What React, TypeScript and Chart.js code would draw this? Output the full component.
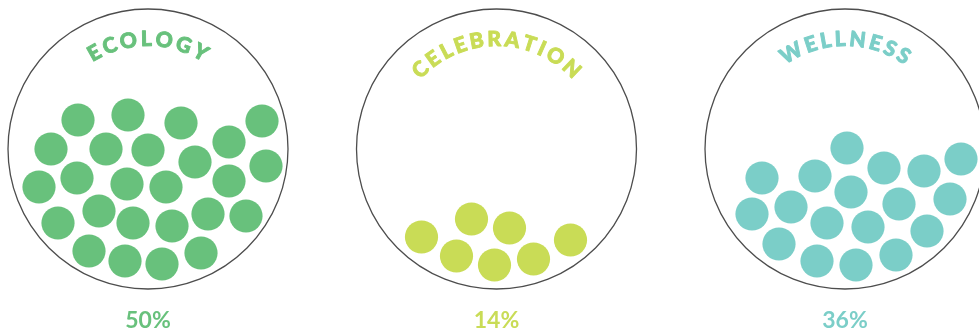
import React, { useEffect, useRef } from 'react';
import { Chart, registerables } from 'chart.js';

Chart.register(...registerables);

// ---- Data ----
const categories = ['ECOLOGY', 'CELEBRATION', 'WELLNESS'];
const percentages = [50, 14, 36];
const colors = ['#68C17C', '#C9DC56', '#7BCEC8'];

// Dot positions relative to each jar's centre (jar radius = 140 units, y up)
const ecologyDots: number[][] = [
  [-70, 29], [-20, 34], [33, 26], [114, 28],
  [-97, 0], [-42, 0], [0, -1], [81, 7], [47, -13], [118, -17],
  [-109, -38], [-71, -29], [-21, -35], [18, -38], [81, -32],
  [-90, -74], [-49, -62], [-15, -74], [24, -77], [60, -65], [98, -67],
  [-59, -102], [-23, -112], [14, -115], [53, -104],
];
const celebrationDots: number[][] = [
  [-75, -88], [-25, -70], [13, -79], [74, -91],
  [-40, -107], [-2, -116], [37, -110],
];
const wellnessDots: number[][] = [
  [2, 1], [-83, -29], [-30, -27], [39, -19], [79, -22], [116, -10],
  [6, -43], [-93, -65], [-54, -58], [54, -55], [105, -50],
  [-18, -74], [23, -78], [-66, -95], [82, -82],
  [-28, -112], [11, -116], [51, -106],
];
const dotGroups = [ecologyDots, celebrationDots, wellnessDots];

const JAR_RADIUS = 140;
const GROUP_SPACING = 348.5;

function drawArcText(
  ctx: CanvasRenderingContext2D,
  text: string,
  cx: number,
  cy: number,
  radius: number,
  spacing: number
) {
  const chars = Array.from(text);
  const widths = chars.map((c) => ctx.measureText(c).width);
  const total = widths.reduce((a, b) => a + b, 0) + spacing * (chars.length - 1);
  let angle = -Math.PI / 2 - total / 2 / radius;
  ctx.textAlign = 'center';
  ctx.textBaseline = 'alphabetic';
  ctx.lineJoin = 'round';
  chars.forEach((ch, i) => {
    const w = widths[i];
    const a = angle + w / 2 / radius;
    ctx.save();
    ctx.translate(cx + radius * Math.cos(a), cy + radius * Math.sin(a));
    ctx.rotate(a + Math.PI / 2);
    ctx.fillText(ch, 0, 0);
    ctx.strokeText(ch, 0, 0);
    ctx.restore();
    angle += (w + spacing) / radius;
  });
}

const jarPlugin = {
  id: 'jars',
  beforeDatasetsDraw(chart: any) {
    const { ctx, scales } = chart;
    const xs = scales.x;
    const ys = scales.y;
    categories.forEach((name, i) => {
      const cxv = i * GROUP_SPACING;
      const cx = xs.getPixelForValue(cxv);
      const cy = ys.getPixelForValue(0);
      const r = Math.abs(xs.getPixelForValue(cxv + JAR_RADIUS) - cx);
      ctx.save();
      ctx.beginPath();
      ctx.arc(cx, cy, r, 0, Math.PI * 2);
      ctx.lineWidth = 1.3;
      ctx.strokeStyle = '#4d4d4d';
      ctx.stroke();

      ctx.fillStyle = colors[i];
      ctx.strokeStyle = colors[i];
      ctx.lineWidth = 0.9;
      ctx.font = '900 21px Lato, "DejaVu Sans", sans-serif';
      drawArcText(ctx, name, cx, cy, r - 37, 2.8);

      ctx.font = 'bold 23px Lato, "DejaVu Sans", sans-serif';
      ctx.textAlign = 'center';
      ctx.textBaseline = 'alphabetic';
      ctx.fillText(percentages[i] + '%', cx, ys.getPixelForValue(-178.5));
      ctx.restore();
    });
  },
};

export default function App() {
  const canvasRef = useRef<HTMLCanvasElement | null>(null);

  useEffect(() => {
    if (!canvasRef.current) return;
    const chart = new Chart(canvasRef.current, {
      type: 'scatter',
      data: {
        datasets: categories.map((name, i) => ({
          label: name,
          data: dotGroups[i].map(([dx, dy]) => ({ x: i * GROUP_SPACING + dx, y: dy })),
          backgroundColor: colors[i],
          borderWidth: 0,
          pointRadius: 16.6,
          pointHoverRadius: 16.6,
          clip: false,
        })),
      },
      options: {
        animation: false,
        responsive: true,
        maintainAspectRatio: false,
        events: [],
        layout: { padding: 0, autoPadding: false },
        plugins: {
          legend: { display: false },
          tooltip: { enabled: false },
        },
        scales: {
          x: { type: 'linear', min: -148, max: 831, display: false },
          y: { type: 'linear', min: -184, max: 149, display: false },
        },
      },
      plugins: [jarPlugin],
    });
    return () => chart.destroy();
  }, []);

  return (
    <div style={{ position: 'absolute', left: 0, top: 0, width: 979, height: 333 }}>
      <canvas ref={canvasRef} />
    </div>
  );
}
